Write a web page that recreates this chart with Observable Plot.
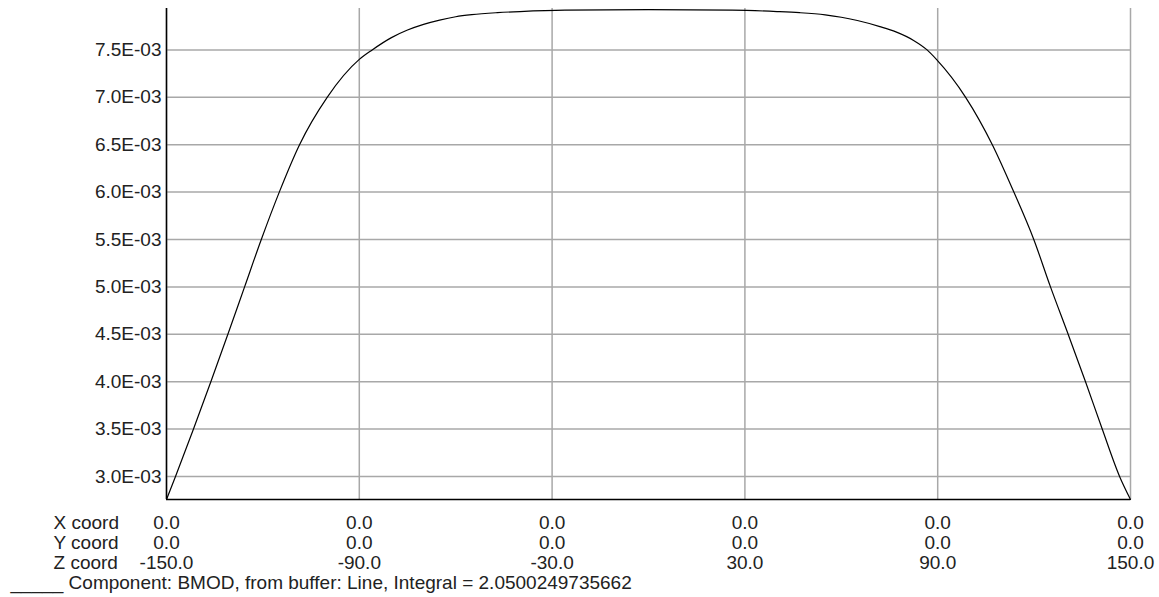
<!DOCTYPE html>
<html><head><meta charset="utf-8">
<script src="https://cdn.jsdelivr.net/npm/d3@7"></script>
<script src="https://cdn.jsdelivr.net/npm/@observablehq/plot@0.6"></script>
<style>
html,body{margin:0;padding:0;background:#fff;}
#chart svg{display:block;}
</style></head><body><div id="chart"></div>
<script>
// Z coordinate along the line and BMOD value
const zCoord = [-150, -147.2, -141.6, -136.2, -130.9, -125.7, -120.5, -114.9, -108.6, -100.0, -90.0, -86.0, -80.0, -75.0, -70.0, -65.0, -60.0, -55.0, -47.0, -40.0, -26.0, 0, 26.0, 40.0, 47.0, 55.0, 60.0, 65.0, 72.0, 77.0, 82.5, 86.7, 89.6, 98.7, 107.0, 113.7, 119.9, 125.1, 130.6, 136.0, 141.2, 146.6, 150];
const bmod = [0.002757, 0.0030, 0.0035, 0.0040, 0.0045, 0.0050, 0.0055, 0.0060, 0.0065, 0.0070, 0.007400, 0.007500, 0.007630, 0.007710, 0.007770, 0.007815, 0.007850, 0.007872, 0.007893, 0.007905, 0.007920, 0.007925, 0.007920, 0.007905, 0.007893, 0.007870, 0.007845, 0.007810, 0.007746, 0.007690, 0.007600, 0.007500, 0.007400, 0.0070, 0.0065, 0.0060, 0.0055, 0.0050, 0.0045, 0.0040, 0.0035, 0.0030, 0.002757];

const xTicks = [-150, -90, -30, 30, 90, 150];
const xCoordLabels = ["0.0", "0.0", "0.0", "0.0", "0.0", "0.0"];
const yCoordLabels = ["0.0", "0.0", "0.0", "0.0", "0.0", "0.0"];
const zCoordLabels = ["-150.0", "-90.0", "-30.0", "30.0", "90.0", "150.0"];
const yTicks = [0.0030, 0.0035, 0.0040, 0.0045, 0.0050, 0.0055, 0.0060, 0.0065, 0.0070, 0.0075];
const yTickLabels = ["3.0E-03", "3.5E-03", "4.0E-03", "4.5E-03", "5.0E-03", "5.5E-03", "6.0E-03", "6.5E-03", "7.0E-03", "7.5E-03"];
const rowLabels = ["X coord", "Y coord", "Z coord"];
const captionText = "_____ Component: BMOD, from buffer: Line, Integral = 2.0500249735662";
const yDomain = [0.002757, 0.007937];

const data = zCoord.map((z, i) => ({z, b: bmod[i]}));
const font = "'Liberation Sans', Arial, sans-serif";
const fs = 19;

const chart = Plot.plot({
  width: 1159, height: 597,
  marginLeft: 166, marginRight: 29, marginTop: 8, marginBottom: 98,
  style: {fontFamily: font, fontSize: fs + "px", color: "#222", background: "#fff", overflow: "visible"},
  x: {domain: [-150, 150]},
  y: {domain: yDomain},
  marks: [
    Plot.gridX(xTicks, {stroke: "#a8a8a8", strokeOpacity: 1, strokeWidth: 1.5}),
    Plot.gridY(yTicks, {stroke: "#a8a8a8", strokeOpacity: 1, strokeWidth: 1.5}),
    Plot.axisY(yTicks, {tickSize: 0, tickPadding: 5, label: null, fontSize: fs,
      tickFormat: d => yTickLabels[yTicks.indexOf(d)]}),
    Plot.axisX(xTicks, {tickSize: 0, tickPadding: 16, label: null, fontSize: fs, lineHeight: 1.03,
      tickFormat: d => { const i = xTicks.indexOf(d); return xCoordLabels[i] + "\n" + yCoordLabels[i] + "\n" + zCoordLabels[i]; }}),
    Plot.ruleX([xTicks[0]], {stroke: "#000", strokeWidth: 1.5}),
    Plot.ruleY([yDomain[0]], {stroke: "#000", strokeWidth: 1.5}),
    Plot.line(data, {x: "z", y: "b", stroke: "#000", strokeWidth: 1.2, curve: "monotone-x"}),
    Plot.text([rowLabels.join("\n")], {frameAnchor: "bottom-left", textAnchor: "start", lineAnchor: "top",
      dx: -113, dy: 16, lineHeight: 1.03, fontSize: fs, fill: "#222"}),
    Plot.text([captionText], {frameAnchor: "bottom-left", textAnchor: "start", lineAnchor: "middle",
      dx: -156, dy: 83, fontSize: fs, fill: "#222"})
  ]
});
document.getElementById("chart").appendChild(chart);
</script>
</body></html>
